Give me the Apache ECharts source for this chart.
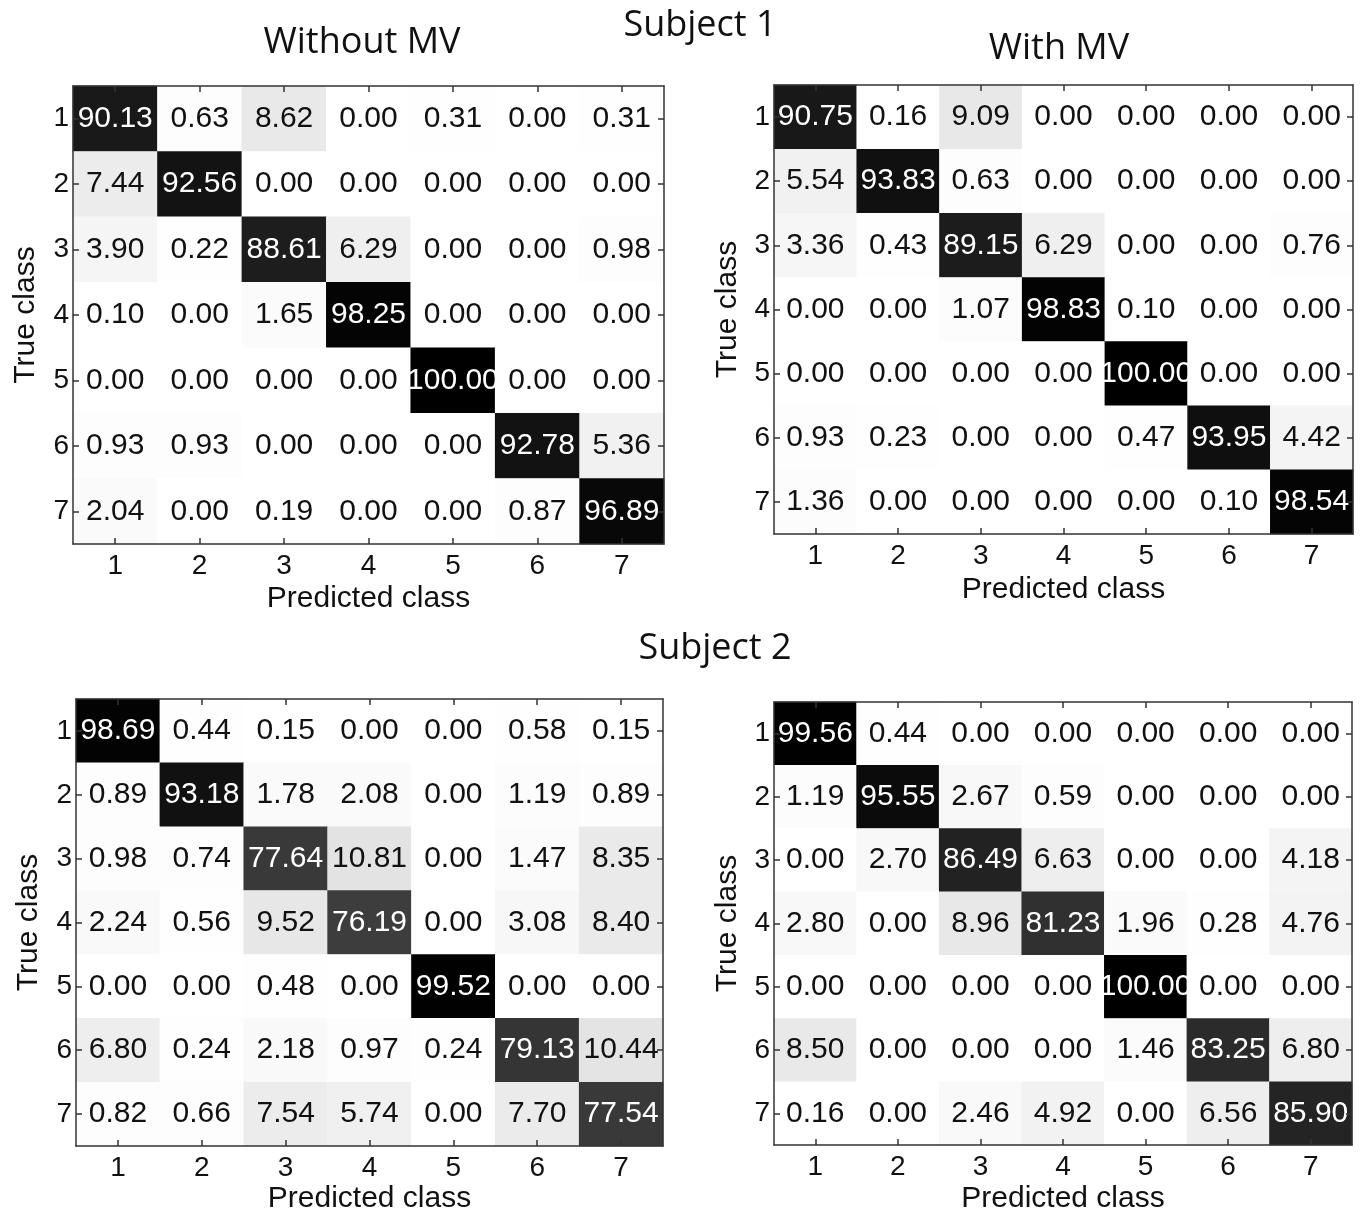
<!DOCTYPE html>
<html>
<head>
<meta charset="utf-8">
<script src="https://cdn.jsdelivr.net/npm/echarts@6/dist/echarts.min.js"></script>
<style>
  html, body { margin: 0; padding: 0; background: #fff; }
  #main { width: 1363px; height: 1215px; }
</style>
</head>
<body>
<div id="main"></div>
<script>
'use strict';

// class labels, used on both axes
const classes = ['1', '2', '3', '4', '5', '6', '7'];

// rows = true class, cols = predicted class (%)
const s1Without = [
    [90.13, 0.63, 8.62, 0.00, 0.31, 0.00, 0.31],
    [7.44, 92.56, 0.00, 0.00, 0.00, 0.00, 0.00],
    [3.90, 0.22, 88.61, 6.29, 0.00, 0.00, 0.98],
    [0.10, 0.00, 1.65, 98.25, 0.00, 0.00, 0.00],
    [0.00, 0.00, 0.00, 0.00, 100.00, 0.00, 0.00],
    [0.93, 0.93, 0.00, 0.00, 0.00, 92.78, 5.36],
    [2.04, 0.00, 0.19, 0.00, 0.00, 0.87, 96.89]
];
const s1With = [
    [90.75, 0.16, 9.09, 0.00, 0.00, 0.00, 0.00],
    [5.54, 93.83, 0.63, 0.00, 0.00, 0.00, 0.00],
    [3.36, 0.43, 89.15, 6.29, 0.00, 0.00, 0.76],
    [0.00, 0.00, 1.07, 98.83, 0.10, 0.00, 0.00],
    [0.00, 0.00, 0.00, 0.00, 100.00, 0.00, 0.00],
    [0.93, 0.23, 0.00, 0.00, 0.47, 93.95, 4.42],
    [1.36, 0.00, 0.00, 0.00, 0.00, 0.10, 98.54]
];
const s2Without = [
    [98.69, 0.44, 0.15, 0.00, 0.00, 0.58, 0.15],
    [0.89, 93.18, 1.78, 2.08, 0.00, 1.19, 0.89],
    [0.98, 0.74, 77.64, 10.81, 0.00, 1.47, 8.35],
    [2.24, 0.56, 9.52, 76.19, 0.00, 3.08, 8.40],
    [0.00, 0.00, 0.48, 0.00, 99.52, 0.00, 0.00],
    [6.80, 0.24, 2.18, 0.97, 0.24, 79.13, 10.44],
    [0.82, 0.66, 7.54, 5.74, 0.00, 7.70, 77.54]
];
const s2With = [
    [99.56, 0.44, 0.00, 0.00, 0.00, 0.00, 0.00],
    [1.19, 95.55, 2.67, 0.59, 0.00, 0.00, 0.00],
    [0.00, 2.70, 86.49, 6.63, 0.00, 0.00, 4.18],
    [2.80, 0.00, 8.96, 81.23, 1.96, 0.28, 4.76],
    [0.00, 0.00, 0.00, 0.00, 100.00, 0.00, 0.00],
    [8.50, 0.00, 0.00, 0.00, 1.46, 83.25, 6.80],
    [0.16, 0.00, 2.46, 4.92, 0.00, 6.56, 85.90]
];

const matrices = [s1Without, s1With, s2Without, s2With];

const NUMFONT = "'Liberation Sans', Arial, sans-serif";
const TITLEFONT = "'Open Sans', sans-serif";
const LINE = '#333';

// plot boxes, in pixels, plus gaps for the axis names
const boxes = [
    { left: 73, top: 86, width: 591, height: 458, xGap: 40, yGap: 32 },
    { left: 774, top: 85, width: 579, height: 449, xGap: 41, yGap: 31 },
    { left: 76, top: 699, width: 587, height: 449, xGap: 38, yGap: 32 },
    { left: 774, top: 702, width: 578, height: 444, xGap: 39, yGap: 31 }
];

function toCells(m) {
    const out = [];
    for (let r = 0; r < m.length; r++) {
        for (let c = 0; c < m[r].length; c++) {
            const v = m[r][c];
            out.push({
                value: [c, r, v],
                label: { color: v > 50 ? '#fff' : '#111' }
            });
        }
    }
    return out;
}

const tick = { show: true, inside: true, alignWithLabel: true, length: 6, lineStyle: { color: LINE, width: 1.5 } };
const axLine = { lineStyle: { color: LINE, width: 1.5 } };

const grid = [], xAxis = [], yAxis = [], series = [];

boxes.forEach(function (b, i) {
    grid.push({ left: b.left, top: b.top, width: b.width, height: b.height, containLabel: false });
    // bottom axis with labels
    xAxis.push({
        type: 'category', gridIndex: i, data: classes, position: 'bottom',
        name: 'Predicted class', nameLocation: 'middle', nameGap: b.xGap,
        nameTextStyle: { fontFamily: NUMFONT, fontSize: 30, color: '#111' },
        axisLine: axLine, axisTick: tick,
        axisLabel: { fontFamily: NUMFONT, fontSize: 28, color: '#111', margin: 8 },
        splitLine: { show: false }, z: 5
    });
    // top frame
    xAxis.push({
        type: 'category', gridIndex: i, data: classes, position: 'top',
        axisLine: axLine, axisTick: tick,
        axisLabel: { show: false }, splitLine: { show: false }, z: 5
    });
    yAxis.push({
        type: 'category', gridIndex: i, data: classes, inverse: true, position: 'left',
        name: 'True class', nameLocation: 'middle', nameGap: b.yGap, nameRotate: 90,
        nameTextStyle: { fontFamily: NUMFONT, fontSize: 30, color: '#111' },
        axisLine: axLine, axisTick: tick,
        axisLabel: { fontFamily: NUMFONT, fontSize: 28, color: '#111', margin: 4 },
        splitLine: { show: false }, z: 5
    });
    // right frame
    yAxis.push({
        type: 'category', gridIndex: i, data: classes, inverse: true, position: 'right',
        axisLine: axLine, axisTick: tick,
        axisLabel: { show: false }, splitLine: { show: false }, z: 5
    });
    series.push({
        type: 'heatmap',
        xAxisIndex: i * 2,
        yAxisIndex: i * 2,
        data: toCells(matrices[i]),
        label: {
            show: true,
            fontFamily: NUMFONT,
            fontSize: 30,
            formatter: function (p) { return p.value[2].toFixed(2); }
        },
        itemStyle: { borderWidth: 0 },
        emphasis: { disabled: true }
    });
});

const titleStyle = { fontFamily: TITLEFONT, fontSize: 36, fontWeight: 'normal', color: '#111' };
const title = [
    { text: 'Subject 1', left: 700, top: 8 },
    { text: 'Without MV', left: 362, top: 25 },
    { text: 'With MV', left: 1059, top: 31 },
    { text: 'Subject 2', left: 715, top: 631 }
].map(function (t) {
    return { text: t.text, left: t.left, top: t.top, textAlign: 'center', padding: 0, textStyle: titleStyle };
});

const chart = echarts.init(document.getElementById('main'), null, { renderer: 'canvas' });
chart.setOption({
    backgroundColor: '#fff',
    animation: false,
    title: title,
    grid: grid,
    xAxis: xAxis,
    yAxis: yAxis,
    visualMap: {
        type: 'continuous', show: false, min: 0, max: 100,
        seriesIndex: [0, 1, 2, 3], dimension: 2,
        inRange: { color: ['#ffffff', '#000000'] }
    },
    series: series
});
</script>
</body>
</html>
